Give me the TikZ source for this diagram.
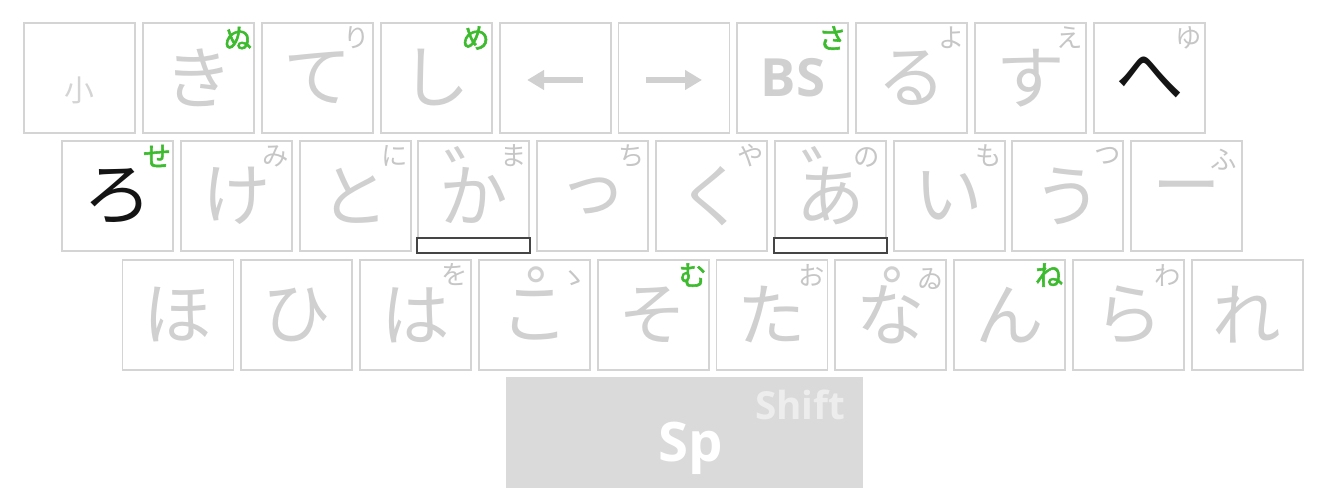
\documentclass[tikz,border=0pt]{standalone}
\usepackage{fontspec}
\newfontfamily\jpfont[AutoFakeBold=2]{Noto Sans CJK JP}
\newfontfamily\uifont{Open Sans}
\usetikzlibrary{arrows.meta,calc}
\definecolor{keyline}{HTML}{D4D4D4}
\definecolor{kanagray}{HTML}{D0D0D0}
\definecolor{subgray}{HTML}{C6C6C6}
\definecolor{kanagreen}{HTML}{3DBB2E}
\definecolor{spacefill}{HTML}{DADADA}
\definecolor{shiftgray}{HTML}{EDEDED}
\definecolor{barline}{HTML}{454545}
\tikzset{
  kbkey/.style={draw=keyline, line width=1.1pt, minimum width=2.22cm, minimum height=2.2cm,
    inner sep=0pt, text=kanagray, font=\jpfont\fontsize{39}{39}\selectfont},
  inked/.style={text=black!92},
  kbsub/.style={inner sep=0pt, text=subgray, font=\jpfont\fontsize{15}{15}\selectfont},
  shiftsub/.style={kbsub, text=kanagreen, font=\jpfont\bfseries\fontsize{16}{16}\selectfont},
  kbmark/.style={inner sep=0pt, text=kanagray, font=\jpfont\fontsize{40}{40}\selectfont},
  kbarrow/.style={draw=kanagray, line width=0.12cm, -{Triangle[length=0.34cm,width=0.38cm]}},
  kbbar/.style={draw=barline, line width=1.1pt, fill=white},
}
\begin{document}
\begin{tikzpicture}[x=0.02cm,y=-0.02cm]
  \useasboundingbox (0,0) rectangle (1322,502);
  % top row
  \node[kbkey] (r1k1) at (79.5,78) {};
  \node[kbsub, text=keyline, font=\jpfont\fontsize{17}{17}\selectfont] (r1k1-m) at ($(r1k1.center)+(0,12)$) {小};
  \node[kbkey] (r1k2) at (198.4,78) {き};
  \node[shiftsub] (r1k2-s) at ($(r1k2.north east)+(-17,16)$) {ぬ};
  \node[kbkey] (r1k3) at (317.3,78) {て};
  \node[kbsub] (r1k3-s) at ($(r1k3.north east)+(-17,16)$) {り};
  \node[kbkey] (r1k4) at (436.2,78) {し};
  \node[shiftsub] (r1k4-s) at ($(r1k4.north east)+(-17,16)$) {め};
  \node[kbkey] (r1k5) at (555.1,78) {};
  \draw[kbarrow] ($(r1k5.center)+(28,2)$) -- ($(r1k5.center)+(-28,2)$);
  \node[kbkey] (r1k6) at (674,78) {};
  \draw[kbarrow] ($(r1k6.center)+(-28,2)$) -- ($(r1k6.center)+(28,2)$);
  \node[kbkey, font=\uifont\bfseries\fontsize{30}{30}\selectfont] (r1k7) at (792.9,78) {BS};
  \node[shiftsub] (r1k7-s) at ($(r1k7.north east)+(-17,16)$) {さ};
  \node[kbkey] (r1k8) at (911.8,78) {る};
  \node[kbsub] (r1k8-s) at ($(r1k8.north east)+(-17,16)$) {よ};
  \node[kbkey] (r1k9) at (1030.7,78) {す};
  \node[kbsub] (r1k9-s) at ($(r1k9.north east)+(-17,16)$) {え};
  \node[kbkey, inked] (r1k10) at (1149.6,78) {へ};
  \node[kbsub] (r1k10-s) at ($(r1k10.north east)+(-17,16)$) {ゆ};
  % home row
  \node[kbkey, inked] (r2k1) at (117.5,196) {ろ};
  \node[shiftsub] (r2k1-s) at ($(r2k1.north east)+(-17,16)$) {せ};
  \node[kbkey] (r2k2) at (236.3,196) {け};
  \node[kbsub] (r2k2-s) at ($(r2k2.north east)+(-17,16)$) {み};
  \node[kbkey] (r2k3) at (355.1,196) {と};
  \node[kbsub] (r2k3-s) at ($(r2k3.north east)+(-17,16)$) {に};
  \node[kbkey] (r2k4) at (473.9,196) {か};
  \node[kbmark] (r2k4-d) at ($(r2k4.center)+(6,-20)$) {゛};
  \node[kbsub] (r2k4-s) at ($(r2k4.north east)+(-17,16)$) {ま};
  \draw[kbbar] ($(r2k4.south west)+(0,-14)$) rectangle ($(r2k4.south east)+(0,1)$);
  \node[kbkey] (r2k5) at (592.7,196) {っ};
  \node[kbsub] (r2k5-s) at ($(r2k5.north east)+(-17,16)$) {ち};
  \node[kbkey] (r2k6) at (711.5,196) {く};
  \node[kbsub] (r2k6-s) at ($(r2k6.north east)+(-17,16)$) {や};
  \node[kbkey] (r2k7) at (830.3,196) {あ};
  \node[kbmark] (r2k7-d) at ($(r2k7.center)+(6,-20)$) {゛};
  \node[kbsub] (r2k7-s) at ($(r2k7.north east)+(-20,17)$) {の};
  \draw[kbbar] ($(r2k7.south west)+(0,-14)$) rectangle ($(r2k7.south east)+(0,1)$);
  \node[kbkey] (r2k8) at (949.1,196) {い};
  \node[kbsub] (r2k8-s) at ($(r2k8.north east)+(-17,16)$) {も};
  \node[kbkey] (r2k9) at (1067.9,196) {う};
  \node[kbsub] (r2k9-s) at ($(r2k9.north east)+(-17,16)$) {つ};
  \node[kbkey] (r2k10) at (1186.7,196) {ー};
  \node[kbsub] (r2k10-s) at ($(r2k10.north east)+(-19,20)$) {ふ};
  % bottom row
  \node[kbkey] (r3k1) at (178,315) {ほ};
  \node[kbkey] (r3k2) at (296.8,315) {ひ};
  \node[kbkey] (r3k3) at (415.6,315) {は};
  \node[kbsub] (r3k3-s) at ($(r3k3.north east)+(-17,16)$) {を};
  \node[kbkey] (r3k4) at (534.4,315) {こ};
  \node[kbmark] (r3k4-d) at ($(r3k4.center)+(27,-19)$) {゜};
  \node[kbsub] (r3k4-s) at ($(r3k4.north east)+(-17,20)$) {ゝ};
  \node[kbkey] (r3k5) at (653.2,315) {そ};
  \node[shiftsub] (r3k5-s) at ($(r3k5.north east)+(-17,16)$) {む};
  \node[kbkey] (r3k6) at (772,315) {た};
  \node[kbsub] (r3k6-s) at ($(r3k6.north east)+(-17,16)$) {お};
  \node[kbkey] (r3k7) at (890.8,315) {な};
  \node[kbmark] (r3k7-d) at ($(r3k7.center)+(27,-19)$) {゜};
  \node[kbsub] (r3k7-s) at ($(r3k7.north east)+(-17,20)$) {ゐ};
  \node[kbkey] (r3k8) at (1009.6,315) {ん};
  \node[shiftsub] (r3k8-s) at ($(r3k8.north east)+(-17,16)$) {ね};
  \node[kbkey] (r3k9) at (1128.4,315) {ら};
  \node[kbsub] (r3k9-s) at ($(r3k9.north east)+(-17,16)$) {わ};
  \node[kbkey] (r3k10) at (1247.2,315) {れ};
  % thumb key
  \node[fill=spacefill, minimum width=7.14cm, minimum height=2.22cm, inner sep=0pt] (space) at (684.5,432.5) {};
  \node[text=white, font=\uifont\bfseries\fontsize{31}{31}\selectfont, inner sep=0pt] (space-m) at ($(space.center)+(6,16)$) {Sp};
  \node[text=shiftgray, font=\uifont\bfseries\fontsize{22}{22}\selectfont, inner sep=0pt] (space-s) at ($(space.north east)+(-63,28)$) {Shift};
\end{tikzpicture}
\end{document}
